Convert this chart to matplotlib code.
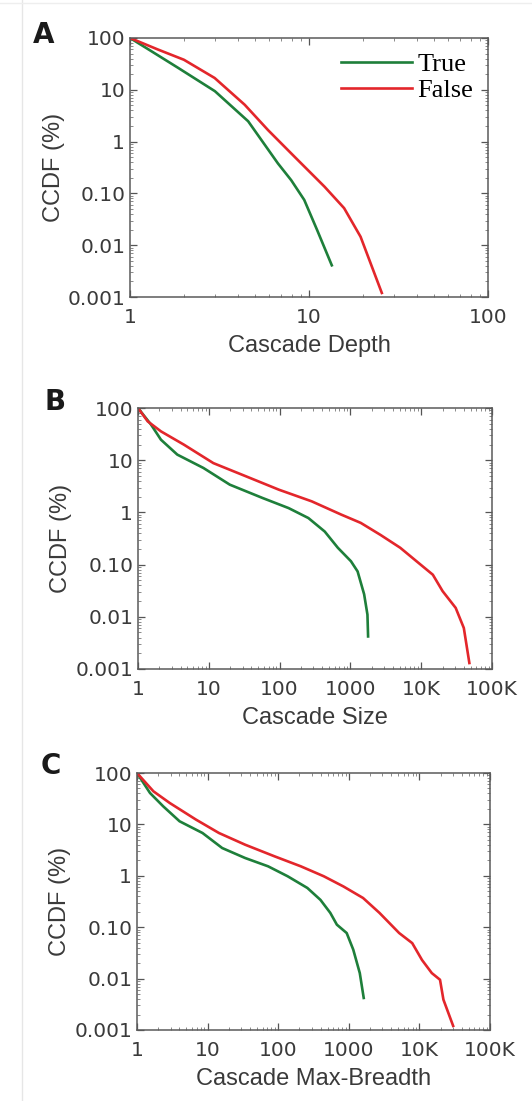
import numpy as np
import matplotlib.pyplot as plt
from matplotlib.ticker import FixedLocator, FixedFormatter, LogLocator, NullFormatter
from matplotlib.lines import Line2D

# panel A - cascade depth
depth_true_x = [1, 1.27, 1.86, 2.98, 4.57, 6.7, 7.95, 9.4, 11.1, 13.4]
depth_true_y = [100, 60, 26.4, 9.4, 2.47, 0.38, 0.18, 0.075, 0.0196, 0.0041]
depth_false_x = [1, 1.43, 2.0, 2.97, 4.37, 5.9, 8.3, 12.2, 15.7, 19.4, 25.5]
depth_false_y = [100, 60, 38, 16.9, 5.15, 1.67, 0.51, 0.135, 0.052, 0.0146, 0.0012]

# panel B - cascade size
size_true_x = [1, 1.53, 2.11, 3.59, 8.4, 19.8, 57.4, 134, 255, 434, 665, 1018, 1264,
               1563, 1741, 1778]
size_true_y = [100, 48, 24.7, 12.8, 7.1, 3.4, 1.89, 1.21, 0.78, 0.43, 0.21, 0.116,
               0.074, 0.027, 0.011, 0.0042]
size_false_x = [1, 1.37, 2.11, 4.44, 11.6, 33.7, 98, 284, 739, 1400, 2665, 5060, 8580,
                14600, 20060, 30700, 40000, 47900]
size_false_y = [100, 55.6, 35.7, 19.9, 8.8, 4.9, 2.72, 1.63, 0.91, 0.63, 0.37, 0.21,
                0.116, 0.064, 0.031, 0.0148, 0.0061, 0.0013]

# panel C - cascade max-breadth
breadth_true_x = [1, 1.53, 2.35, 4.01, 8.48, 16.1, 34, 71.9, 136, 259, 397, 547, 678,
                  934, 1157, 1432, 1628]
breadth_true_y = [100, 40.8, 22.5, 11.5, 6.8, 3.47, 2.22, 1.53, 0.98, 0.58, 0.34, 0.19,
                  0.112, 0.077, 0.0366, 0.0128, 0.0042]
breadth_false_x = [1, 1.71, 2.91, 6.85, 14.5, 34, 89, 209, 442, 840, 1594, 2720, 5170,
                   7920, 10900, 15000, 19600, 21900, 30100]
breadth_false_y = [100, 44, 26.1, 12.4, 6.8, 4.03, 2.39, 1.53, 0.98, 0.62, 0.37, 0.19,
                   0.077, 0.049, 0.023, 0.0128, 0.0095, 0.0039, 0.0012]

y_ticks = [0.001, 0.01, 0.1, 1, 10, 100]
y_labels = ['0.001', '0.01', '0.10', '1', '10', '100']
x_ticks_depth = [1, 10, 100]
x_labels_depth = ['1', '10', '100']
x_ticks_size = [1, 10, 100, 1000, 10000, 100000]
x_labels_size = ['1', '10', '100', '1000', '10K', '100K']

GREEN = '#1e7f3a'
RED = '#e3262b'
TXT = '#3a3a3a'

fig = plt.figure(figsize=(5.32, 11.01), dpi=100)

# (rect, letter, letter centre in px, data..., x ticks, limits, label)
panels = [
    ([0.2444, 0.7302, 0.673, 0.2353], 'A', (44, 35), depth_true_x, depth_true_y,
     depth_false_x, depth_false_y, x_ticks_depth, x_labels_depth, (1, 100), 'Cascade Depth'),
    ([0.2594, 0.3924, 0.6654, 0.2370], 'B', (55, 402), size_true_x, size_true_y,
     size_false_x, size_false_y, x_ticks_size, x_labels_size, (1, 100000), 'Cascade Size'),
    ([0.2575, 0.0645, 0.6635, 0.2334], 'C', (51, 766), breadth_true_x, breadth_true_y,
     breadth_false_x, breadth_false_y, x_ticks_size, x_labels_size, (1, 100000),
     'Cascade Max-Breadth'),
]

for rect, letter, lpos, tx, ty, fx, fy, xt, xl, xlim, xlabel in panels:
    ax = fig.add_axes(rect)
    ax.plot(tx, ty, color=GREEN, lw=1.9, label='True')
    ax.plot(fx, fy, color=RED, lw=1.9, label='False')
    ax.set_xscale('log')
    ax.set_yscale('log')
    ax.set_xlim(*xlim)
    ax.set_ylim(0.001, 100)
    ax.xaxis.set_major_locator(FixedLocator(xt))
    ax.xaxis.set_major_formatter(FixedFormatter(xl))
    ax.yaxis.set_major_locator(FixedLocator(y_ticks))
    ax.yaxis.set_major_formatter(FixedFormatter(y_labels))
    ax.xaxis.set_minor_locator(LogLocator(base=10, subs=np.arange(2, 10), numticks=20))
    ax.yaxis.set_minor_locator(LogLocator(base=10, subs=np.arange(2, 10), numticks=20))
    ax.xaxis.set_minor_formatter(NullFormatter())
    ax.yaxis.set_minor_formatter(NullFormatter())
    ax.tick_params(which='major', direction='in', length=5, width=0.9, top=True, right=True,
                   labelsize=14.5, labelcolor=TXT, color='#555555')
    ax.tick_params(axis='x', which='major', pad=8)
    ax.tick_params(axis='y', which='major', pad=3.5)
    ax.tick_params(which='minor', direction='in', length=2.5, width=0.6, top=True, right=True,
                   color='#777777')
    for s in ax.spines.values():
        s.set_color('#5a5a5a')
        s.set_linewidth(1.1)
    ax.set_xlabel(xlabel, fontsize=17, color=TXT, labelpad=5.5, family='Liberation Sans')
    ax.set_ylabel('CCDF (%)', fontsize=17, color=TXT, labelpad=2, family='Liberation Sans')
    fig.text(lpos[0] / 532, 1 - lpos[1] / 1101, letter, fontsize=20, fontweight='bold',
             family='DejaVu Sans', color='#1a1a1a', ha='center', va='center')
    if letter == 'A':
        ax.legend(loc='upper right', frameon=False, handlelength=2.7, handletextpad=0.2,
                  labelspacing=0.1, borderaxespad=0.35, borderpad=0.2,
                  prop={'family': 'Liberation Serif', 'size': 19})

# faint frame of the original figure
fig.add_artist(Line2D([22 / 532, 22 / 532], [0, 1], color='#e6e6e6', lw=1))
fig.add_artist(Line2D([0, 1], [1 - 3 / 1101, 1 - 3 / 1101], color='#eeeeee', lw=1))

fig.savefig('out.png', dpi=100)
